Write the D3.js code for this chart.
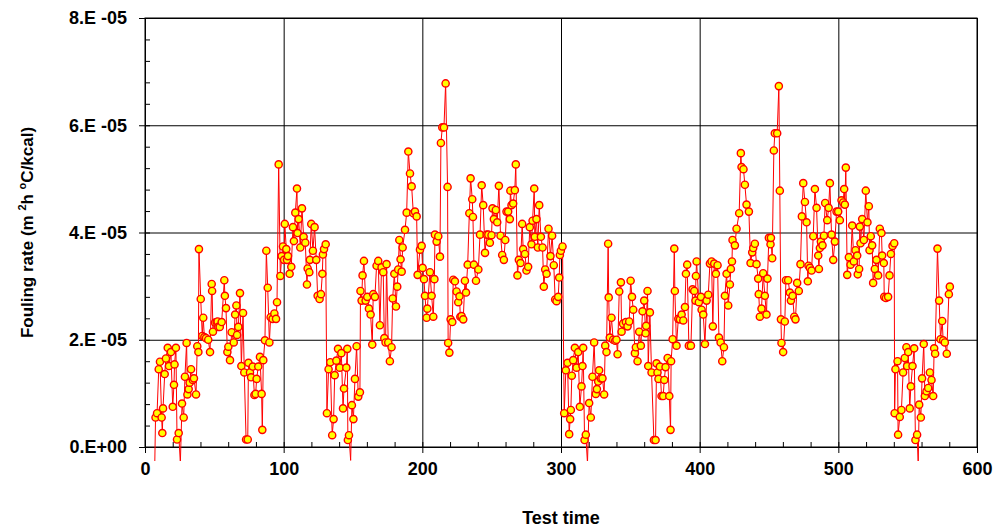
<!DOCTYPE html>
<html>
<head>
  <meta charset="utf-8">
  <title>Fouling rate vs test time</title>
  <script src="https://cdn.jsdelivr.net/npm/d3@7"></script>
  <style>
    body { margin: 0; background: #fff; }
    text { font-family: "Liberation Sans", Arial, sans-serif; font-weight: bold; fill: #000; }
  </style>
</head>
<body>
<script>
  // test time (x) and fouling rate in units of 1E-05 m2h°C/kcal (y)
  var testTime = [
    7.0, 7.6, 8.7, 9.9, 10.8, 12.0, 12.5, 13.0, 14.2, 15.1, 16.4, 17.3, 18.7, 20.0, 20.9, 21.3, 22.3, 23.1, 24.3, 25.5,
    26.7, 27.9, 28.8, 30.0, 30.6, 31.5, 32.2, 33.2, 34.5, 35.3, 36.8, 37.7, 38.5, 38.9, 40.2, 41.3, 42.0, 42.8, 44.0, 45.6,
    46.9, 48.1, 48.4, 49.0, 50.5, 51.7, 52.4, 52.9, 53.9, 55.3, 57.2, 57.6, 58.4, 59.4, 60.1, 61.3, 62.5, 64.0, 65.0, 65.9,
    66.4, 67.3, 68.5, 69.5, 70.7, 71.6, 72.9, 74.1, 74.6, 75.7, 76.5, 77.7, 78.9, 79.8, 80.5, 81.7, 82.9, 84.1, 84.6, 85.3,
    86.5, 87.5, 88.5, 89.7, 90.6, 92.0, 93.3, 94.5, 95.2, 96.4, 97.6, 98.6, 99.5, 100.3, 100.8, 101.9, 102.4, 103.1, 104.3, 105.5,
    106.7, 107.4, 108.4, 109.6, 110.0, 110.8, 112.0, 113.2, 114.4, 115.6, 116.8, 117.3, 118.5, 118.9, 119.9, 121.1, 122.3, 123.5, 124.5, 125.9,
    126.9, 127.9, 128.3, 129.1, 130.3, 131.2, 132.4, 133.6, 135.0, 136.0, 136.8, 138.0, 139.2, 140.4, 141.6, 142.8, 143.5, 145.2, 145.9, 146.3,
    147.1, 148.3, 149.2, 150.3, 151.4, 152.6, 153.8, 155.0, 155.4, 156.2, 156.9, 157.9, 159.1, 160.3, 161.5, 162.7, 163.9, 164.6, 165.8, 167.0,
    168.2, 169.4, 170.6, 171.8, 172.6, 173.5, 174.2, 175.4, 176.6, 177.8, 178.6, 179.8, 181.0, 181.9, 182.6, 183.4, 184.3, 185.1, 185.8, 187.5,
    188.7, 189.9, 191.1, 192.3, 193.5, 194.7, 195.9, 196.6, 198.3, 199.5, 200.2, 201.2, 201.9, 203.1, 203.6, 205.5, 206.7, 207.9, 208.7, 209.1,
    210.3, 211.5, 212.7, 213.4, 214.4, 215.6, 216.8, 218.2, 218.6, 219.5, 220.4, 221.6, 222.3, 223.5, 224.7, 225.9, 226.8, 227.4, 228.3, 229.5,
    230.7, 231.5, 232.7, 233.9, 234.8, 236.0, 236.5, 237.2, 238.7, 240.4, 241.6, 242.8, 243.9, 245.2, 246.4, 247.6, 248.7, 249.9, 250.6, 251.6,
    253.0, 254.0, 255.2, 256.4, 257.6, 258.8, 259.8, 260.7, 261.9, 263.1, 263.5, 264.3, 265.5, 266.7, 267.4, 268.6, 269.6, 270.8, 272.0, 272.7,
    274.0, 275.1, 276.3, 277.5, 278.7, 279.5, 280.7, 281.1, 282.3, 283.3, 284.3, 285.5, 286.7, 287.6, 288.6, 289.6, 291.0, 292.4, 293.6, 294.8,
    295.8, 296.8, 298.0, 298.7, 299.2, 299.9, 301.1, 302.3, 303.5, 304.7, 305.9, 306.6, 307.1, 307.8, 308.8, 310.0, 311.2, 312.4, 313.6, 314.8,
    315.5, 316.0, 317.0, 317.9, 319.1, 320.3, 321.5, 322.7, 323.9, 325.1, 325.9, 326.8, 327.5, 328.7, 329.9, 331.1, 331.9, 332.8, 334.0, 334.4,
    335.2, 336.4, 337.6, 339.1, 340.0, 340.8, 342.0, 343.2, 343.7, 344.8, 346.8, 348.0, 349.2, 350.2, 351.2, 352.1, 353.3, 354.0, 355.2, 356.4,
    357.6, 358.8, 360.0, 361.0, 361.4, 362.4, 362.9, 364.1, 365.3, 367.0, 368.2, 368.9, 369.6, 370.3, 371.3, 372.5, 373.7, 374.5, 375.4, 376.9,
    378.1, 379.0, 379.4, 380.5, 381.7, 382.1, 383.3, 384.6, 385.8, 387.0, 388.2, 389.4, 390.1, 391.0, 392.2, 393.7, 394.9, 396.1, 397.0, 397.3,
    397.8, 399.4, 400.9, 401.4, 402.6, 403.8, 405.0, 406.2, 407.4, 408.6, 409.5, 410.5, 411.7, 412.9, 413.9, 415.1, 416.3, 417.5, 418.2, 419.4,
    420.6, 421.8, 422.5, 423.3, 423.7, 425.4, 426.6, 428.5, 429.7, 430.2, 431.6, 432.6, 433.8, 435.5, 436.7, 437.9, 438.6, 439.8, 441.0, 442.2,
    442.6, 443.4, 444.6, 445.8, 447.0, 448.2, 448.9, 449.9, 451.1, 451.4, 452.3, 453.5, 454.2, 455.9, 457.1, 457.8, 458.6, 459.0, 460.2, 461.4,
    462.2, 463.8, 465.0, 465.8, 467.0, 468.2, 469.1, 470.3, 471.5, 472.7, 473.7, 474.7, 475.9, 477.1, 478.0, 478.5, 479.5, 480.7, 481.9, 483.1,
    484.3, 485.5, 486.0, 486.7, 487.4, 488.6, 489.6, 490.5, 492.0, 493.0, 493.9, 495.1, 496.3, 497.5, 498.7, 499.9, 501.1, 502.3, 503.5, 504.2,
    504.7, 505.4, 506.4, 507.6, 508.8, 510.0, 511.2, 512.4, 513.6, 514.0, 515.0, 515.5, 516.0, 517.2, 518.4, 519.8, 521.0, 522.0, 522.5, 523.4,
    524.4, 525.1, 526.3, 527.5, 528.7, 529.9, 531.1, 531.6, 532.8, 533.1, 534.3, 535.9, 536.9, 537.9, 539.1, 540.3, 540.6, 541.2, 542.7, 543.1,
    544.3, 545.5, 546.7, 547.9, 549.1, 549.6, 550.4, 551.5, 552.3, 553.5, 554.7, 555.6, 556.8, 557.6, 558.3, 559.5, 560.4, 561.6, 562.4, 563.6,
    564.8, 566.0, 567.2, 568.4, 569.1, 569.8, 571.5, 572.7, 573.7, 574.9, 575.6, 576.8, 578.2, 579.7, 580.4
  ];
  var foulingRate = [
    -0.4, 0.55, 0.63, 1.45, 1.59, 0.55, 0.26, 0.72, 1.36, 1.65, 1.85, 1.51, 1.77, 0.75, 1.16, 1.54, 1.85, 0.14, 0.26, -0.3,
    0.81, 0.55, 1.31, 1.94, 0.98, 1.08, 1.2, 1.45, 1.25, 1.28, 0.98, 1.88, 1.77, 3.69, 2.76, 2.07, 2.41, 2.05, 2.03, 2.0,
    1.77, 3.04, 2.91, 2.15, 2.32, 2.33, 2.34, 2.24, 2.24, 2.33, 3.11, 2.82, 2.59, 1.77, 1.87, 1.62, 2.14, 1.95, 2.47, 2.64,
    2.09, 2.24, 2.87, 1.51, 2.5, 1.39, 0.14, 0.14, 1.57, 1.39, 1.3, 1.5, 0.97, 0.99, 1.27, 1.5, 1.68, 0.99, 0.32, 1.62,
    1.99, 3.66, 2.97, 1.95, 2.42, 2.39, 2.49, 2.39, 2.7, 5.27, 3.19, 3.56, 3.74, 3.49, 4.16, 3.69, 3.49, 3.56, 3.23, 3.36,
    4.1, 3.84, 4.37, 4.82, 3.99, 4.25, 3.72, 4.45, 3.92, 3.81, 3.03, 3.33, 3.26, 3.49, 4.16, 3.66, 4.1, 3.49, 2.82, 2.76,
    2.85, 3.23, 3.59, 3.69, 3.78, 0.63, 1.45, 1.58, 0.22, 0.52, 1.34, 1.61, 1.83, 1.48, 1.75, 0.72, 1.09, 1.48, 1.83, 0.13,
    0.22, -0.25, 0.78, 0.52, 1.27, 1.88, 0.94, 1.02, 2.91, 2.73, 3.2, 3.47, 2.73, 2.8, 2.58, 2.47, 1.91, 2.85, 2.8, 3.38,
    3.47, 2.27, 3.35, 3.26, 2.03, 1.95, 3.41, 1.95, 1.6, 1.86, 2.77, 3.23, 2.62, 2.99, 3.31, 3.86, 3.5, 3.27, 3.72, 4.05,
    4.37, 5.51, 5.1, 4.86, 4.36, 4.39, 4.3, 3.21, 3.68, 3.75, 3.34, 3.13, 2.82, 2.41, 2.58, 3.26, 2.82, 2.43, 3.13, 3.96,
    3.83, 3.93, 3.55, 5.67, 5.96, 5.96, 6.78, 4.85, 1.94, 1.76, 2.38, 2.33, 3.12, 3.09, 2.9, 2.7, 2.81, 2.43, 2.44, 2.38,
    3.1, 2.88, 3.4, 4.36, 5.01, 4.62, 4.29, 3.4, 3.1, 3.31, 3.96, 4.88, 4.51, 3.62, 3.96, 3.96, 3.81, 3.95, 4.45, 4.25,
    4.42, 4.19, 4.87, 3.94, 3.58, 3.49, 3.86, 4.39, 4.39, 4.25, 4.78, 4.51, 4.54, 4.79, 5.27, 3.2, 3.49, 3.43, 4.16, 3.69,
    3.6, 3.29, 3.36, 4.1, 3.78, 4.22, 4.82, 3.92, 4.25, 3.72, 4.51, 3.92, 3.72, 2.99, 3.31, 3.23, 4.07, 3.56, 3.94, 3.39,
    2.75, 2.72, 2.8, 3.16, 3.58, 3.66, 3.74, 0.63, 1.43, 1.57, 0.24, 0.52, 0.69, 1.33, 1.62, 1.85, 1.48, 1.77, 0.75, 1.13,
    1.51, 1.85, 0.13, 0.23, -0.3, 0.82, 0.55, 1.31, 1.95, 0.99, 1.08, 1.22, 1.43, 1.28, 1.28, 0.98, 1.89, 1.77, 3.79, 2.79,
    2.04, 2.41, 2.0, 1.98, 2.0, 1.73, 2.9, 3.07, 2.15, 2.3, 2.33, 2.25, 2.34, 3.1, 2.8, 2.56, 1.75, 1.86, 1.6, 2.15,
    1.89, 2.53, 2.73, 2.12, 2.26, 2.91, 1.51, 2.51, 1.39, 0.13, 0.13, 1.56, 1.39, 1.27, 1.5, 0.95, 0.95, 1.25, 1.49, 1.66,
    0.95, 0.32, 1.6, 2.01, 3.7, 2.91, 1.89, 2.39, 2.38, 2.47, 2.36, 2.61, 3.23, 3.4, 1.89, 1.89, 2.94, 2.91, 2.73, 3.19,
    3.46, 2.7, 2.8, 2.56, 2.47, 1.92, 2.73, 2.84, 3.42, 3.46, 2.25, 3.42, 3.23, 3.39, 2.04, 1.95, 1.6, 1.86, 2.82, 3.23,
    2.64, 3.03, 3.32, 3.46, 3.86, 3.76, 4.07, 4.36, 5.48, 5.22, 5.18, 4.89, 4.52, 4.39, 3.43, 3.63, 3.71, 3.79, 3.41, 3.14,
    2.85, 2.43, 2.58, 3.24, 2.82, 2.47, 3.14, 3.9, 3.78, 3.9, 3.52, 5.53, 5.85, 5.85, 6.73, 4.78, 2.38, 1.94, 1.77, 2.34,
    3.11, 3.11, 2.88, 2.73, 2.82, 2.43, 2.38, 3.06, 2.91, 3.41, 4.3, 4.92, 4.57, 4.19, 3.09, 3.38, 3.34, 3.29, 3.93, 4.81,
    4.46, 3.57, 3.32, 3.71, 3.83, 3.76, 3.94, 4.55, 4.23, 4.46, 4.92, 3.96, 3.49, 3.83, 4.39, 4.39, 4.23, 4.6, 4.56, 4.81,
    4.52, 5.21, 3.21, 3.54, 3.4, 4.13, 3.46, 3.67, 3.57, 3.22, 3.32, 4.11, 3.8, 4.25, 3.86, 4.78, 4.19, 4.49, 3.67, 3.93,
    3.76, 3.06, 3.32, 3.49, 3.2, 4.07, 3.99, 3.57, 3.43, 2.8, 2.78, 2.8, 3.2, 3.6, 3.75, 3.8, 0.63, 1.45, 1.6, 0.23,
    0.56, 0.69, 1.39, 1.66, 1.86, 1.51, 1.77, 0.72, 1.13, 1.51, 1.84, 0.13, 0.23, -0.3, 0.79, 0.55, 1.28, 1.92, 0.95, 1.04,
    1.1, 1.39, 1.25, 0.95, 1.84, 1.74, 3.7, 2.73, 2.01, 2.35, 1.99, 1.95, 1.74, 2.85, 2.99
  ];
  var unit = 1e-5;

  var xTicks = [0, 100, 200, 300, 400, 500, 600];
  var xMinor = d3.range(0, 601, 20);
  var yTicks = [0, 2e-5, 4e-5, 6e-5, 8e-5];
  var yMinor = d3.range(0, 8.01, 0.4).map(function(v){ return v * unit; });
  var yTickLabels = ["0.E+00", "2.E -05", "4.E -05", "6.E -05", "8.E -05"];

  var W = 1001, H = 531;
  var pLeft = 145, pRight = 977, pTop = 18, pBottom = 447;

  var data = testTime.map(function(t, i){ return {t: t, f: foulingRate[i] * unit}; });

  var x = d3.scaleLinear().domain([0, 600]).range([pLeft, pRight]);
  var y = d3.scaleLinear().domain([0, 8e-5]).range([pBottom, pTop]);

  var svg = d3.select("body").append("svg").attr("width", W).attr("height", H);

  svg.append("defs").append("clipPath").attr("id", "clip")
    .append("rect").attr("x", pLeft).attr("y", pTop).attr("width", pRight - pLeft).attr("height", pBottom - pTop + 14);

  // grid lines
  svg.append("g").attr("transform", "translate(0," + pBottom + ")")
    .call(d3.axisBottom(x).tickValues(xTicks).tickSize(-(pBottom - pTop)).tickFormat(""))
    .call(function(g){ g.select(".domain").remove(); g.selectAll("line").attr("stroke", "#000"); });
  svg.append("g").attr("transform", "translate(" + pLeft + ",0)")
    .call(d3.axisLeft(y).tickValues(yTicks).tickSize(-(pRight - pLeft)).tickFormat(""))
    .call(function(g){ g.select(".domain").remove(); g.selectAll("line").attr("stroke", "#000"); });

  // minor ticks (inside)
  svg.append("g").attr("transform", "translate(0," + pBottom + ")")
    .call(d3.axisBottom(x).tickValues(xMinor).tickSize(-5).tickFormat(""))
    .call(function(g){ g.select(".domain").remove(); });
  svg.append("g").attr("transform", "translate(" + pLeft + ",0)")
    .call(d3.axisLeft(y).tickValues(yMinor).tickSize(-5).tickFormat(""))
    .call(function(g){ g.select(".domain").remove(); });

  // major ticks and labels (outside)
  var xAxis = svg.append("g").attr("transform", "translate(0," + pBottom + ")")
    .call(d3.axisBottom(x).tickValues(xTicks).tickSize(6).tickPadding(9).tickFormat(d3.format("d")));
  xAxis.select(".domain").remove();
  xAxis.selectAll("text").attr("font-size", 18).style("font-family", null);

  var yAxis = svg.append("g").attr("transform", "translate(" + pLeft + ",0)")
    .call(d3.axisLeft(y).tickValues(yTicks).tickSize(6).tickPadding(12)
      .tickFormat(function(d, i){ return yTickLabels[i]; }));
  yAxis.select(".domain").remove();
  yAxis.selectAll("text").attr("font-size", 18).style("font-family", null);

  // plot border
  svg.append("rect").attr("x", pLeft).attr("y", pTop).attr("width", pRight - pLeft).attr("height", pBottom - pTop)
    .attr("fill", "none").attr("stroke", "#000").attr("stroke-width", 1);

  var plot = svg.append("g").attr("clip-path", "url(#clip)");

  var line = d3.line().x(function(d){ return x(d.t); }).y(function(d){ return y(d.f); });
  plot.append("path").datum(data).attr("d", line)
    .attr("fill", "none").attr("stroke", "#ff0000").attr("stroke-width", 1);

  plot.selectAll("circle").data(data.filter(function(d){ return d.f >= 0; }))
    .enter().append("circle")
    .attr("cx", function(d){ return x(d.t); })
    .attr("cy", function(d){ return y(d.f); })
    .attr("r", 3.6)
    .attr("fill", "#ffff00").attr("stroke", "#ff0000").attr("stroke-width", 1.4);

  // axis titles
  svg.append("text").attr("x", (pLeft + pRight) / 2).attr("y", 524)
    .attr("text-anchor", "middle").attr("font-size", 18).text("Test time");

  var yt = svg.append("text").attr("transform", "translate(33," + ((pTop + pBottom) / 2) + ") rotate(-90)")
    .attr("text-anchor", "middle").attr("font-size", 17);
  yt.append("tspan").text("Fouling rate (m ");
  yt.append("tspan").attr("font-size", 11).attr("dy", -7).text("2");
  yt.append("tspan").attr("dy", 7).text("h ");
  yt.append("tspan").attr("font-size", 11).attr("dy", -7).text("o");
  yt.append("tspan").attr("dy", 7).text("C/kcal)");
</script>
</body>
</html>
